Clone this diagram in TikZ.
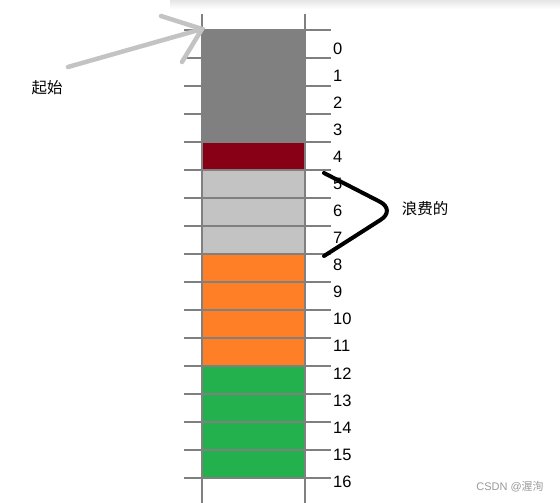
\documentclass[tikz,border=0pt]{standalone}
\usepackage{fontspec}
\setmainfont{Liberation Sans}
\newfontfamily\cjk{Noto Sans CJK SC}
\definecolor{cgray}{HTML}{808080}
\definecolor{cred}{HTML}{880015}
\definecolor{clight}{HTML}{C3C3C3}
\definecolor{corange}{HTML}{FF7F27}
\definecolor{cgreen}{HTML}{22B14C}
\definecolor{gridc}{HTML}{808080}
\begin{document}
\begin{tikzpicture}[x=1pt,y=-1pt,
  cell/.style={minimum width=103pt,minimum height=28pt,inner sep=0pt,outer sep=0pt,draw=none},
  gridline/.style={draw=gridc,line width=1.3pt},
  idx/.style={anchor=west,inner sep=0pt,font=\fontsize{16.5}{18}\selectfont},
  cjklabel/.style={inner sep=0pt,font=\cjk\fontsize{15.5}{18}\selectfont},
  pointer/.style={draw=clight,line width=4.5pt,line cap=round},
  bracket/.style={draw=black,line width=4pt,line cap=round,rounded corners=18pt}]
\useasboundingbox (0,0) rectangle (560,503);
\fill[white] (0,0) rectangle (560,503);
\shade[top color=black!10,bottom color=white] (170,0) rectangle (560,9);
% cells
\foreach \i/\c in {0/cgray,1/cgray,2/cgray,3/cgray,4/cred,5/clight,6/clight,7/clight,
  8/corange,9/corange,10/corange,11/corange,12/cgreen,13/cgreen,14/cgreen,15/cgreen}
  \node[cell,fill=\c] (c\i) at (253.5,44+28*\i) {};
% horizontal lines and ticks
\foreach \k in {0,...,16}{
  \coordinate (l\k) at (184,30+28*\k);
  \coordinate (r\k) at (331,30+28*\k);
  \draw[gridline] (l\k) -- (r\k);
}
% vertical lines
\coordinate (vlt) at (202,14);
\coordinate (vlb) at (202,503);
\coordinate (vrt) at (305,14);
\coordinate (vrb) at (305,503);
\draw[gridline] (vlt) -- (vlb);
\draw[gridline] (vrt) -- (vrb);
% index labels
\foreach \k in {0,...,16}
  \node[idx] (n\k) at (333,48.6+27.06*\k) {\k};
% start arrow
\node[cjklabel] (start) at (47,88) {起始};
\coordinate (ab) at (68,67);
\coordinate (at) at (202,29);
\coordinate (a1) at (161,16);
\coordinate (a2) at (182,62);
\draw[pointer] (ab) -- (at);
\draw[pointer] (a1) -- (at) -- (a2);
% waste bracket
\node[cjklabel] (waste) at (425,209) {浪费的};
\coordinate (b1) at (324,173);
\coordinate (b2) at (396,210);
\coordinate (b3) at (324,256);
\draw[bracket] (b1) -- (b2) -- (b3);
% watermark
\node[inner sep=0pt,text=black!40,font=\fontsize{11}{12}\selectfont] (wm) at (510,487) {CSDN @{\cjk 渥洵}};
\end{tikzpicture}
\end{document}
